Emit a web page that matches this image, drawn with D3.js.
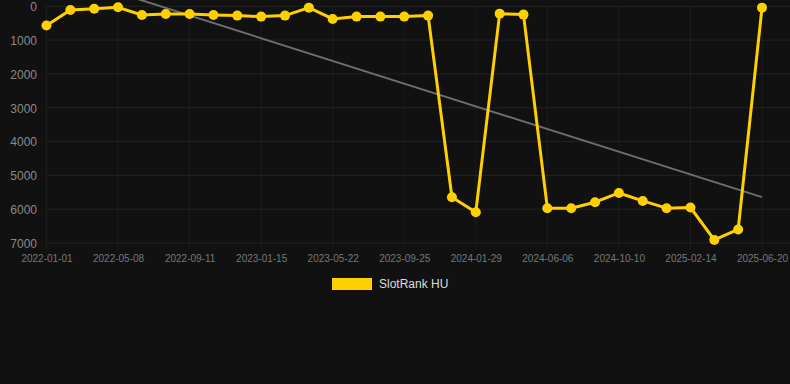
<!DOCTYPE html>
<html>
<head>
<meta charset="utf-8">
<script src="https://cdn.jsdelivr.net/npm/d3@7"></script>
<style>
  html, body { margin: 0; padding: 0; background: #111111; }
  svg { display: block; font-family: "Helvetica Neue", Helvetica, Arial, "Liberation Sans", sans-serif; }
</style>
</head>
<body>
<div id="chart"></div>
<script>
// dates of each sample (only every third one is labelled)
var dates = [
  '2022-01-01', '2022-02-12', '2022-03-26', '2022-05-08', '2022-06-19', '2022-07-31',
  '2022-09-11', '2022-10-23', '2022-12-04', '2023-01-15', '2023-02-26', '2023-04-09',
  '2023-05-22', '2023-07-03', '2023-08-14', '2023-09-25', '2023-11-06', '2023-12-18',
  '2024-01-29', '2024-03-11', '2024-04-23', '2024-06-06', '2024-07-17', '2024-08-28',
  '2024-10-10', '2024-11-21', '2025-01-02', '2025-02-14', '2025-03-28', '2025-05-09',
  '2025-06-20'
]
// rank values, SlotRank HU
var ranks = [
  570, 109, 70, 30, 256, 226,
  230, 256, 275, 305, 275, 40,
  373, 305, 305, 305, 275, 5647,
  6088, 217, 246, 5970, 5970, 5794,
  5520, 5756, 5970, 5950, 6910, 6600,
  40
]
var yTicks = [0, 1000, 2000, 3000, 4000, 5000, 6000, 7000]
var seriesName = 'SlotRank HU'

var width = 790
var height = 384
var margin = { top: 6.3, right: 28, bottom: 141, left: 46.5 }
var lineColor = '#ffd000'

var svg = d3.select('#chart').append('svg')
  .attr('width', width)
  .attr('height', height)

svg.append('rect')
  .attr('width', width)
  .attr('height', height)
  .attr('fill', '#111111')

var x = d3.scalePoint()
  .domain(d3.range(dates.length))
  .range([margin.left, width - margin.right])

var y = d3.scaleLinear()
  .domain([0, 7000])
  .range([margin.top, height - margin.bottom])

// 网格线
var grid = svg.append('g').attr('class', 'grid')
grid.selectAll('line.h')
  .data(yTicks)
  .enter()
  .append('line')
  .attr('class', 'h')
  .attr('x1', margin.left)
  .attr('x2', width)
  .attr('y1', function(d) { return y(d) })
  .attr('y2', function(d) { return y(d) })
  .attr('stroke', 'rgba(255,255,255,0.07)')
  .attr('stroke-width', 1)

var labelIdx = d3.range(0, dates.length, 3)
grid.selectAll('line.v')
  .data(labelIdx)
  .enter()
  .append('line')
  .attr('class', 'v')
  .attr('x1', function(d) { return x(d) })
  .attr('x2', function(d) { return x(d) })
  .attr('y1', margin.top)
  .attr('y2', y(7000) + 6)
  .attr('stroke', 'rgba(255,255,255,0.05)')
  .attr('stroke-width', 1)

// y 轴
var yAxis = d3.axisLeft(y)
  .tickValues(yTicks)
  .tickFormat(d3.format('d'))
  .tickSize(0)
  .tickPadding(0)
svg.append('g')
  .attr('transform', 'translate(37,0)')
  .call(yAxis)
  .call(function(g) {
    g.select('.domain').remove()
    g.selectAll('text')
      .attr('fill', '#8a8a8a')
      .attr('font-size', 12)
      .attr('dy', '0.36em')
  })

// x 轴
var xAxis = d3.axisBottom(x)
  .tickValues(labelIdx)
  .tickFormat(function(i) { return dates[i] })
  .tickSize(0)
  .tickPadding(0)
svg.append('g')
  .attr('transform', 'translate(0,' + (y(7000) + 12) + ')')
  .call(xAxis)
  .call(function(g) {
    g.select('.domain').remove()
    g.selectAll('text')
      .attr('fill', '#777777')
      .attr('font-size', 10)
      .attr('dy', '0.71em')
  })

// 趋势线 (最小二乘)
var n = ranks.length
var mx = d3.mean(d3.range(n))
var my = d3.mean(ranks)
var sxy = d3.sum(ranks, function(v, i) { return (i - mx) * (v - my) })
var sxx = d3.sum(d3.range(n), function(i) { return (i - mx) * (i - mx) })
var slope = sxy / sxx
var intercept = my - slope * mx

svg.append('line')
  .attr('x1', x(0))
  .attr('y1', y(intercept))
  .attr('x2', x(n - 1))
  .attr('y2', y(intercept + slope * (n - 1)))
  .attr('stroke', '#6e6e6e')
  .attr('stroke-width', 2)

// 折线
var line = d3.line()
  .x(function(d, i) { return x(i) })
  .y(function(d) { return y(d) })

svg.append('path')
  .datum(ranks)
  .attr('d', line)
  .attr('fill', 'none')
  .attr('stroke', lineColor)
  .attr('stroke-width', 3)
  .attr('stroke-linejoin', 'round')

svg.selectAll('circle.pt')
  .data(ranks)
  .enter()
  .append('circle')
  .attr('class', 'pt')
  .attr('cx', function(d, i) { return x(i) })
  .attr('cy', function(d) { return y(d) })
  .attr('r', 5)
  .attr('fill', lineColor)

// 图例
var legend = svg.append('g').attr('transform', 'translate(332,278)')
legend.append('rect')
  .attr('width', 40)
  .attr('height', 12)
  .attr('fill', lineColor)
legend.append('text')
  .attr('x', 47)
  .attr('y', 6)
  .attr('dy', '0.36em')
  .attr('fill', '#dddddd')
  .attr('font-size', 12)
  .text(seriesName)
</script>
</body>
</html>
